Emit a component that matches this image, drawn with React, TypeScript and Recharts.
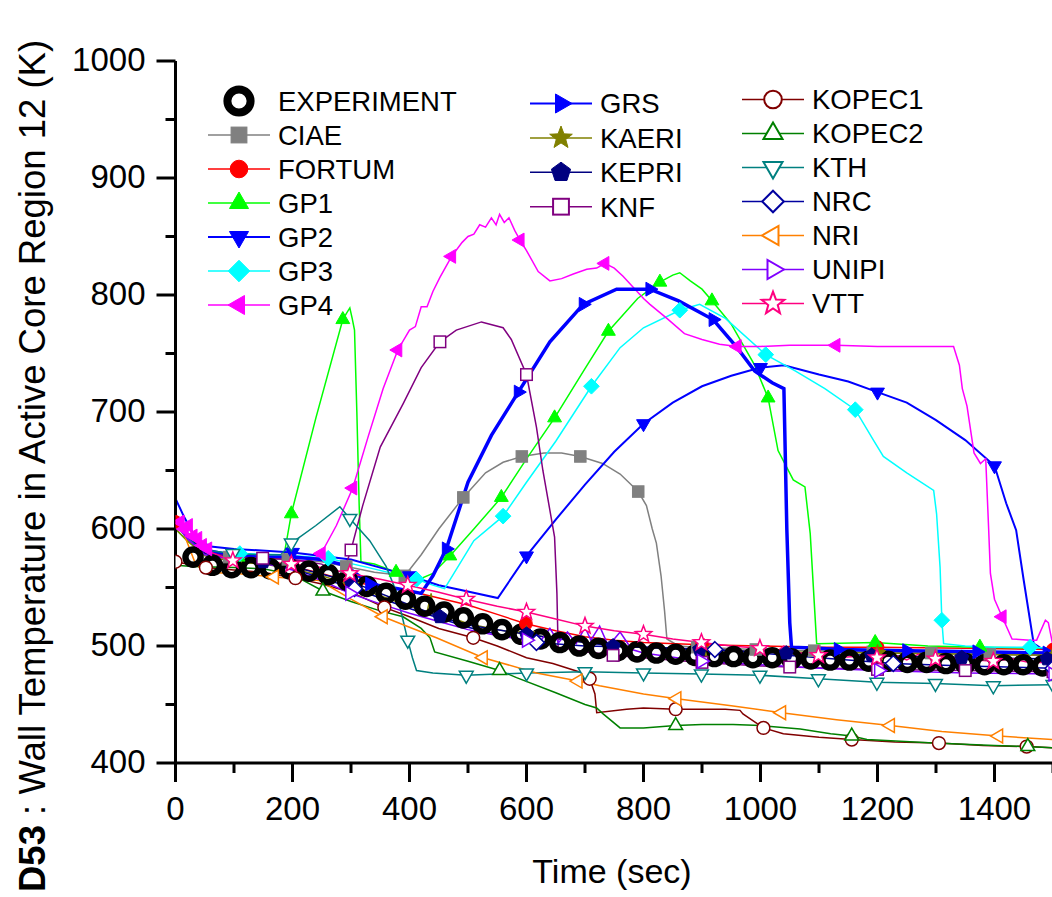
import React from "react";
import { ComposedChart, Line, XAxis, YAxis } from "recharts";

// [time (s), temperature (K), marker?]
type Pt = [number, number, number?];

const X_TICKS = [0, 100, 200, 300, 400, 500, 600, 700, 800, 900, 1000, 1100, 1200, 1300, 1400, 1500];
const Y_TICKS = [400, 450, 500, 550, 600, 650, 700, 750, 800, 850, 900, 950, 1000];

const EXPERIMENT: Pt[] = [
  [30, 576, 1], [63, 569, 1], [96, 567, 1], [129, 567, 1], [162, 566, 1], [195, 566, 1], [228, 564, 1],
  [261, 561, 1], [294, 556, 1], [327, 551, 1], [360, 545, 1], [393, 540, 1], [426, 534, 1], [459, 529, 1],
  [492, 524, 1], [525, 519, 1], [558, 514, 1], [591, 510, 1], [624, 506, 1], [657, 503, 1], [690, 500, 1],
  [723, 498, 1], [756, 496, 1], [789, 495, 1], [822, 494, 1], [855, 493, 1], [888, 492, 1], [921, 491, 1],
  [954, 491, 1], [987, 490, 1], [1020, 490, 1], [1053, 489, 1], [1086, 489, 1], [1119, 488, 1], [1152, 488, 1],
  [1185, 487, 1], [1218, 487, 1], [1251, 486, 1], [1284, 486, 1], [1317, 485, 1], [1350, 485, 1], [1383, 484, 1],
  [1416, 484, 1], [1449, 484, 1], [1482, 483, 1],
];

const CIAE: Pt[] = [
  [0, 603], [15, 597], [40, 582], [70, 577], [92, 576, 1], [150, 575], [192, 574, 1], [250, 572], [292, 568, 1],
  [340, 563], [392, 560, 1], [420, 578], [450, 600], [492, 627, 1], [530, 648], [560, 657], [592, 662, 1],
  [630, 665], [660, 665], [692, 662, 1], [730, 656], [760, 647], [791, 632, 1], [805, 620], [815, 600],
  [822, 588], [830, 560], [836, 530], [840, 506], [860, 500], [892, 499, 1], [992, 497, 1], [1092, 496, 1],
  [1192, 495, 1], [1292, 494, 1], [1392, 493, 1], [1500, 492],
];

const FORTUM: Pt[] = [
  [0, 606, 1], [15, 598], [40, 582], [70, 576], [100, 574], [150, 571], [200, 568], [250, 562], [298, 555, 1],
  [350, 551], [400, 547], [450, 541], [500, 535], [550, 527], [599, 519, 1], [650, 513], [700, 508], [750, 505],
  [800, 503], [900, 501, 1], [1000, 500], [1100, 499], [1200, 499, 1], [1350, 498], [1500, 497, 1],
];

const GP1: Pt[] = [
  [0, 600], [20, 590], [50, 578], [107, 576, 1], [150, 575], [185, 576], [198, 613, 1], [240, 695], [286, 779, 1],
  [293, 785], [298, 789], [302, 780], [306, 770], [310, 700], [314, 620], [317, 572], [340, 570], [377, 563, 1],
  [412, 556], [440, 562], [469, 577, 1], [510, 600], [557, 627, 1], [600, 660], [648, 695, 1], [700, 737],
  [740, 769, 1], [790, 797], [828, 811, 1], [850, 817], [862, 819], [880, 812], [900, 805], [917, 795, 1],
  [950, 775], [990, 740], [1013, 712, 1], [1030, 667], [1056, 642], [1076, 636], [1085, 596], [1096, 502],
  [1196, 503, 1], [1286, 500], [1375, 499, 1], [1500, 498],
];

const GP2: Pt[] = [
  [0, 626], [15, 610], [35, 592], [60, 585], [100, 583], [200, 580, 1], [250, 577], [300, 574], [350, 567],
  [400, 560, 1], [450, 552], [486, 548], [551, 541], [600, 577, 1], [650, 608], [700, 638], [750, 666],
  [800, 690, 1], [850, 708], [900, 722], [950, 731], [1000, 738, 1], [1040, 740], [1100, 732], [1150, 726],
  [1200, 717, 1], [1250, 708], [1300, 693], [1350, 676], [1400, 654, 1], [1420, 622], [1437, 599], [1450, 556],
  [1467, 502], [1480, 498], [1500, 497],
];

const GP3: Pt[] = [
  [0, 612], [15, 600], [40, 585], [70, 580], [110, 579, 1], [180, 578], [261, 575, 1], [330, 567], [412, 557, 1],
  [440, 552], [460, 549], [510, 590], [560, 611, 1], [600, 640], [650, 675], [711, 722, 1], [760, 755],
  [800, 772], [862, 787, 1], [896, 792], [940, 780], [1009, 749, 1], [1060, 735], [1110, 720], [1162, 702, 1],
  [1193, 676], [1210, 662], [1250, 648], [1296, 633], [1301, 613], [1307, 567], [1310, 522, 1], [1313, 502],
  [1350, 500], [1400, 499], [1461, 499, 1], [1500, 498],
];

const GP4: Pt[] = [
  [0, 612], [8, 606, 1], [15, 600, 1], [22, 603, 1], [30, 594, 1], [38, 592, 1], [46, 586, 1], [55, 583, 1],
  [65, 580], [100, 578], [150, 576], [200, 574], [230, 572], [249, 579, 1], [275, 603], [303, 635, 1],
  [330, 680], [355, 720], [380, 753, 1], [400, 770], [410, 773], [420, 790], [430, 790], [440, 803], [452, 815],
  [472, 833, 1], [490, 845], [500, 850], [510, 852], [520, 860], [530, 858], [540, 866], [548, 860], [554, 869],
  [562, 862], [570, 866], [580, 855], [589, 847, 1], [600, 838], [620, 820], [640, 812], [660, 814], [680, 818],
  [703, 822], [720, 823], [734, 827, 1], [750, 823], [765, 816], [780, 808], [800, 797], [811, 792], [840, 780],
  [870, 767], [900, 762], [930, 758], [960, 756, 1], [1000, 756], [1050, 757], [1100, 757], [1129, 757, 1],
  [1200, 756], [1250, 756], [1300, 756], [1330, 756], [1340, 740], [1345, 720], [1353, 705], [1365, 665],
  [1376, 656], [1385, 660], [1390, 600], [1393, 562], [1400, 540], [1413, 525, 1], [1430, 506], [1461, 505],
  [1472, 505], [1487, 522], [1492, 520], [1500, 500],
];

const GRS: Pt[] = [
  [0, 606], [20, 594], [50, 582], [100, 577], [150, 576], [200, 576], [250, 574], [290, 569], [332, 553, 1],
  [380, 549], [420, 545], [440, 560], [463, 583, 1], [500, 640], [540, 680], [586, 717, 1], [640, 760],
  [697, 792, 1], [754, 805], [811, 805, 1], [860, 795], [919, 779, 1], [960, 755], [990, 735], [1020, 725],
  [1040, 720], [1045, 600], [1050, 520], [1053, 499], [1100, 498], [1133, 497, 1], [1250, 496, 1],
  [1370, 495, 1], [1490, 494, 1], [1500, 494],
];

const KAERI: Pt[] = [
  [0, 600], [20, 590], [50, 577], [100, 572], [150, 570], [200, 566], [250, 560], [300, 552, 1], [350, 543],
  [400, 534], [430, 529], [437, 545], [440, 530], [500, 519], [550, 514], [600, 510, 1], [700, 503], [800, 499],
  [900, 497, 1], [1000, 495], [1200, 494, 1], [1350, 493], [1500, 492, 1],
];

const KEPRI: Pt[] = [
  [0, 605], [20, 592], [50, 579], [100, 574], [150, 572, 1], [200, 568], [300, 555, 1], [400, 535],
  [452, 525, 1], [500, 518], [600, 510, 1], [700, 503], [748, 500, 1], [800, 499], [896, 497, 1], [1000, 495],
  [1044, 494, 1], [1190, 492, 1], [1344, 490, 1], [1490, 489, 1], [1500, 489],
];

const KNF: Pt[] = [
  [0, 606], [20, 595], [50, 580], [100, 576], [149, 575, 1], [200, 574], [250, 570], [285, 560], [300, 582, 1],
  [320, 620], [350, 670], [389, 707], [420, 738], [452, 760, 1], [480, 770], [523, 777], [560, 772], [574, 762],
  [600, 732, 1], [617, 687], [628, 650], [640, 616], [648, 593], [652, 545], [654, 499], [700, 495],
  [748, 492, 1], [800, 490], [900, 486, 1], [1000, 483], [1050, 482, 1], [1200, 480, 1], [1350, 479, 1],
  [1500, 478, 1],
];

const KOPEC1: Pt[] = [
  [0, 572, 1], [20, 570], [52, 567, 1], [100, 565], [150, 563], [205, 558, 1], [250, 553], [300, 546],
  [357, 533, 1], [400, 525], [450, 515], [509, 507, 1], [550, 500], [600, 490], [645, 485], [696, 477],
  [708, 472, 1], [717, 459], [720, 443], [771, 446], [800, 447], [855, 446, 1], [940, 446], [965, 445],
  [970, 442], [1005, 430, 1], [1039, 425], [1100, 422], [1156, 420, 1], [1230, 418], [1305, 417, 1],
  [1380, 415], [1455, 414, 1], [1500, 413],
];

const KOPEC2: Pt[] = [
  [0, 569], [30, 568], [100, 567], [150, 566], [200, 561], [252, 547, 1], [300, 538], [350, 530], [389, 525],
  [420, 515], [435, 507], [443, 495], [500, 487], [554, 479, 1], [583, 473], [650, 460], [700, 450], [720, 447],
  [731, 442], [760, 430], [800, 430], [855, 432, 1], [900, 433], [953, 433], [1000, 432], [1068, 429],
  [1120, 425], [1156, 423, 1], [1182, 420], [1296, 417], [1400, 415], [1457, 414, 1], [1500, 413],
];

const KTH: Pt[] = [
  [0, 605], [20, 592], [50, 582], [98, 579, 1], [150, 578], [180, 578], [198, 588, 1], [240, 603], [281, 619],
  [298, 609, 1], [332, 590], [360, 568], [377, 547], [389, 522], [397, 505, 1], [405, 490], [412, 479],
  [440, 477], [497, 475, 1], [600, 477, 1], [700, 478, 1], [800, 477, 1], [899, 476, 1], [999, 475, 1],
  [1099, 472, 1], [1199, 469, 1], [1299, 468, 1], [1398, 466, 1], [1500, 467, 1],
];

const NRC: Pt[] = [
  [0, 610], [20, 595], [50, 580], [100, 574], [150, 571], [200, 566], [250, 558], [306, 549, 1], [350, 541],
  [400, 532], [450, 524], [500, 516], [550, 510], [617, 503, 1], [700, 500], [800, 499], [922, 497, 1],
  [1000, 494], [1100, 490], [1227, 485, 1], [1350, 483], [1500, 481, 1],
];

const NRI: Pt[] = [
  [0, 606], [12, 599], [32, 573], [47, 563], [104, 562], [169, 559, 1], [246, 556], [300, 540], [355, 525, 1],
  [400, 516], [446, 507], [526, 490, 1], [617, 477], [688, 470, 1], [725, 466], [800, 459], [857, 455, 1],
  [950, 449], [1036, 443, 1], [1130, 437], [1222, 432, 1], [1310, 427], [1407, 423, 1], [1500, 420],
];

const UNIPI: Pt[] = [
  [0, 604], [20, 592], [50, 578], [100, 574], [150, 571], [200, 565], [250, 556], [298, 545, 1], [350, 536],
  [400, 528], [450, 521], [500, 514], [550, 509], [600, 505, 1], [615, 512], [625, 505], [640, 515], [655, 503],
  [670, 512], [685, 502], [700, 516], [710, 505], [725, 517], [740, 500], [760, 512], [780, 497], [800, 494],
  [899, 487, 1], [1000, 484], [1100, 481], [1202, 479, 1], [1350, 477], [1500, 476, 1],
];

const VTT: Pt[] = [
  [0, 608], [20, 596], [50, 582], [98, 573, 1], [150, 572], [198, 570, 1], [250, 567], [298, 562, 1], [350, 557],
  [397, 552, 1], [450, 546], [497, 540, 1], [550, 534], [600, 529, 1], [650, 523], [700, 517, 1], [750, 513],
  [800, 510, 1], [850, 506], [899, 503, 1], [950, 500], [999, 498, 1], [1030, 496], [1040, 500], [1050, 495],
  [1099, 492, 1], [1120, 494], [1130, 490], [1160, 491], [1199, 490, 1], [1230, 492], [1250, 488], [1270, 493],
  [1299, 489, 1], [1330, 490], [1350, 494], [1370, 488], [1398, 487, 1], [1430, 489], [1460, 486], [1500, 486],
];

type Shape = "ring" | "circle" | "square" | "triUp" | "triDown" | "triLeft" | "triRight" | "diamond" | "star" | "pentagon";

type Series = { name: string; pts: Pt[]; color: string; shape: Shape; filled: boolean; lw: number };

const SERIES: Series[] = [
  { name: "EXPERIMENT", pts: EXPERIMENT, color: "#000000", shape: "ring", filled: false, lw: 0 },
  { name: "CIAE", pts: CIAE, color: "#808080", shape: "square", filled: true, lw: 1.5 },
  { name: "FORTUM", pts: FORTUM, color: "#FF0000", shape: "circle", filled: true, lw: 1.5 },
  { name: "GP1", pts: GP1, color: "#00FF00", shape: "triUp", filled: true, lw: 1.5 },
  { name: "GP2", pts: GP2, color: "#0000FF", shape: "triDown", filled: true, lw: 2 },
  { name: "GP3", pts: GP3, color: "#00FFFF", shape: "diamond", filled: true, lw: 1.5 },
  { name: "GP4", pts: GP4, color: "#FF00FF", shape: "triLeft", filled: true, lw: 1.5 },
  { name: "GRS", pts: GRS, color: "#0000FF", shape: "triRight", filled: true, lw: 3.5 },
  { name: "KAERI", pts: KAERI, color: "#808000", shape: "star", filled: true, lw: 1.5 },
  { name: "KEPRI", pts: KEPRI, color: "#000080", shape: "pentagon", filled: true, lw: 1.5 },
  { name: "KNF", pts: KNF, color: "#800080", shape: "square", filled: false, lw: 1.5 },
  { name: "KOPEC1", pts: KOPEC1, color: "#800000", shape: "circle", filled: false, lw: 1.5 },
  { name: "KOPEC2", pts: KOPEC2, color: "#008000", shape: "triUp", filled: false, lw: 1.5 },
  { name: "KTH", pts: KTH, color: "#008080", shape: "triDown", filled: false, lw: 1.5 },
  { name: "NRC", pts: NRC, color: "#0000A0", shape: "diamond", filled: false, lw: 1.5 },
  { name: "NRI", pts: NRI, color: "#FF8000", shape: "triLeft", filled: false, lw: 1.5 },
  { name: "UNIPI", pts: UNIPI, color: "#8000FF", shape: "triRight", filled: false, lw: 1.5 },
  { name: "VTT", pts: VTT, color: "#FF0080", shape: "star", filled: false, lw: 1.5 },
];

const FONT = "'Liberation Sans', Arial, Helvetica, sans-serif";

function ring(cx: number, cy: number, r: number, angles: number[]) {
  return angles
    .map((a) => `${(cx + r * Math.cos((a * Math.PI) / 180)).toFixed(2)},${(cy + r * Math.sin((a * Math.PI) / 180)).toFixed(2)}`)
    .join(" ");
}

function starPts(cx: number, cy: number, r: number) {
  const out: string[] = [];
  for (let k = 0; k < 10; k++) {
    const a = ((-90 + k * 36) * Math.PI) / 180;
    const rr = k % 2 === 0 ? r : r * 0.42;
    out.push(`${(cx + rr * Math.cos(a)).toFixed(2)},${(cy + rr * Math.sin(a)).toFixed(2)}`);
  }
  return out.join(" ");
}

function Marker({ shape, cx, cy, R, color, filled, sw }: {
  shape: Shape; cx: number; cy: number; R: number; color: string; filled: boolean; sw: number;
}) {
  const fill = filled ? color : "#ffffff";
  const st = { fill, stroke: color, strokeWidth: filled ? 1 : sw };
  switch (shape) {
    case "ring":
      return <circle cx={cx} cy={cy} r={R} fill="none" stroke={color} strokeWidth={sw} />;
    case "circle":
      return <circle cx={cx} cy={cy} r={R * 0.8} {...st} />;
    case "square": {
      const h = R * 0.72;
      return <rect x={cx - h} y={cy - h} width={2 * h} height={2 * h} {...st} />;
    }
    case "diamond":
      return <polygon points={ring(cx, cy, R * 0.98, [-90, 0, 90, 180])} {...st} />;
    case "triUp":
      return <polygon points={ring(cx, cy, R, [-90, 30, 150])} {...st} />;
    case "triDown":
      return <polygon points={ring(cx, cy, R, [90, 210, 330])} {...st} />;
    case "triLeft":
      return <polygon points={ring(cx, cy, R, [180, 300, 60])} {...st} />;
    case "triRight":
      return <polygon points={ring(cx, cy, R, [0, 120, 240])} {...st} />;
    case "star":
      return <polygon points={starPts(cx, cy, R * 1.08)} {...st} />;
    case "pentagon":
      return <polygon points={ring(cx, cy, R * 0.92, [-90, -18, 54, 126, 198])} {...st} />;
  }
  return null;
}

function BottomTick(props: any) {
  const { x, y, payload } = props;
  const major = payload.value % 200 === 0;
  return (
    <g>
      <line x1={x} x2={x} y1={y} y2={y + (major ? 19 : 10)} stroke="#000" strokeWidth={3} />
      {major && (
        <text x={x} y={y + 57} textAnchor="middle" fontSize={33} fontFamily={FONT} fill="#000">
          {payload.value}
        </text>
      )}
    </g>
  );
}

function TopTick(props: any) {
  const { x, y, payload } = props;
  const major = payload.value % 200 === 0;
  return <line x1={x} x2={x} y1={y} y2={y + (major ? 17 : 10)} stroke="#000" strokeWidth={3} />;
}

function LeftTick(props: any) {
  const { x, y, payload } = props;
  const major = payload.value % 100 === 0;
  return (
    <g>
      <line x1={x} x2={x - (major ? 19 : 10)} y1={y} y2={y} stroke="#000" strokeWidth={3} />
      {major && (
        <text x={x - 30} y={y + 9.5} textAnchor="end" fontSize={33} fontFamily={FONT} fill="#000">
          {payload.value}
        </text>
      )}
    </g>
  );
}

function RightTick(props: any) {
  const { x, y, payload } = props;
  const major = payload.value % 100 === 0;
  return <line x1={x} x2={x - (major ? 17 : 10)} y1={y} y2={y} stroke="#000" strokeWidth={3} />;
}

const LEGEND_COLS = [
  { cx: 239, tx: 278, y0: 101, dy: 34, names: ["EXPERIMENT", "CIAE", "FORTUM", "GP1", "GP2", "GP3", "GP4"] },
  { cx: 561, tx: 600, y0: 103.5, dy: 34.4, names: ["GRS", "KAERI", "KEPRI", "KNF"] },
  { cx: 773, tx: 812, y0: 99.5, dy: 34, names: ["KOPEC1", "KOPEC2", "KTH", "NRC", "NRI", "UNIPI", "VTT"] },
];

function Overlay() {
  return (
    <svg width={1052} height={897} style={{ position: "absolute", left: 0, top: 0, pointerEvents: "none" }}>
      {LEGEND_COLS.map((col) =>
        col.names.map((name, i) => {
          const s = SERIES.find((q) => q.name === name)!;
          const y = col.y0 + i * col.dy;
          return (
            <g key={name}>
              {s.lw > 0 && (
                <line x1={col.cx - 31} x2={col.cx + 31} y1={y} y2={y} stroke={s.color} strokeWidth={Math.min(s.lw, 2)} />
              )}
              {s.shape === "ring" ? (
                <Marker shape="ring" cx={col.cx} cy={y} R={11.6} color="#000" filled={false} sw={8} />
              ) : (
                <Marker shape={s.shape} cx={col.cx} cy={y} R={11} color={s.color} filled={s.filled} sw={2} />
              )}
              <text x={col.tx} y={y + 9.8} fontSize={27.5} fontFamily={FONT} fill="#000">
                {name}
              </text>
            </g>
          );
        })
      )}
      <text transform="rotate(-90)" x={-892} y={45} fontSize={36.5} fontFamily={FONT} fill="#000">
        <tspan fontWeight="bold">D53</tspan>
        <tspan>{" : Wall Temperature in Active Core Region 12 (K)"}</tspan>
      </text>
      <text x={612} y={883} textAnchor="middle" fontSize={34} fontFamily={FONT} fill="#000">
        Time (sec)
      </text>
    </svg>
  );
}

export default function App() {
  return (
    <div style={{ position: "absolute", left: 0, top: 0, width: 1052, height: 897, overflow: "hidden", background: "#fff" }}>
      <ComposedChart width={1062} height={897} margin={{ top: 61, right: 9, bottom: 0, left: 0 }}>
        <XAxis
          xAxisId="x"
          dataKey="t"
          type="number"
          domain={[0, 1500]}
          ticks={X_TICKS}
          interval={0}
          allowDataOverflow
          height={134}
          tickSize={0}
          tickMargin={0}
          tickLine={false}
          axisLine={{ stroke: "#000", strokeWidth: 3 }}
          tick={<BottomTick />}
        />
        <XAxis
          xAxisId="xt"
          orientation="top"
          dataKey="t"
          type="number"
          domain={[0, 1500]}
          ticks={X_TICKS}
          interval={0}
          allowDataOverflow
          height={0}
          tickSize={0}
          tickMargin={0}
          tickLine={false}
          axisLine={{ stroke: "#000", strokeWidth: 3 }}
          tick={<TopTick />}
        />
        <YAxis
          yAxisId="y"
          type="number"
          domain={[400, 1000]}
          ticks={Y_TICKS}
          interval={0}
          allowDataOverflow
          width={175.5}
          tickSize={0}
          tickMargin={0}
          tickLine={false}
          axisLine={{ stroke: "#000", strokeWidth: 3 }}
          tick={<LeftTick />}
        />
        <YAxis
          yAxisId="yr"
          orientation="right"
          type="number"
          domain={[400, 1000]}
          ticks={Y_TICKS}
          interval={0}
          allowDataOverflow
          width={0}
          tickSize={0}
          tickMargin={0}
          tickLine={false}
          axisLine={{ stroke: "#000", strokeWidth: 3 }}
          tick={<RightTick />}
        />
        {SERIES.map((s) => {
          const rows = s.pts.map(([t, v, m]) => ({ t, v, m: m ? 1 : 0 }));
          return (
            <Line
              key={s.name}
              xAxisId="x"
              yAxisId="y"
              data={rows}
              dataKey="v"
              type="linear"
              stroke={s.lw > 0 ? s.color : "none"}
              strokeWidth={s.lw}
              isAnimationActive={false}
              activeDot={false}
              dot={(p: any) =>
                p.payload && p.payload.m ? (
                  <g key={`${s.name}-${p.index}`}>
                    {s.shape === "ring" ? (
                      <Marker shape="ring" cx={p.cx} cy={p.cy} R={7.6} color="#000" filled={false} sw={6.4} />
                    ) : (
                      <Marker shape={s.shape} cx={p.cx} cy={p.cy} R={8} color={s.color} filled={s.filled} sw={1.5} />
                    )}
                  </g>
                ) : (
                  <g key={`${s.name}-${p.index}`} />
                )
              }
            />
          );
        })}
      </ComposedChart>
      <Overlay />
    </div>
  );
}
